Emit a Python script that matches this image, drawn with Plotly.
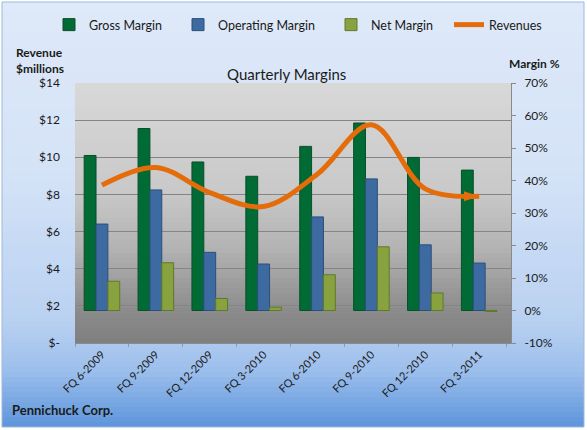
import plotly.graph_objects as go

quarters = ["FQ 6-2009", "FQ 9-2009", "FQ 12-2009", "FQ 3-2010",
            "FQ 6-2010", "FQ 9-2010", "FQ 12-2010", "FQ 3-2011"]
gross_margin = [47.7, 56.0, 45.7, 41.3, 50.5, 57.7, 47.1, 43.2]
operating_margin = [26.6, 37.1, 17.9, 14.3, 28.8, 40.5, 20.2, 14.6]
net_margin = [9.0, 14.7, 3.7, 1.0, 11.0, 19.6, 5.4, -0.3]
revenues = [8.5, 9.45, 8.1, 7.35, 9.1, 11.75, 8.3, 7.9]

rev_ticks = [0, 2, 4, 6, 8, 10, 12, 14]
rev_ticktext = ["$-", "$2", "$4", "$6", "$8", "$10", "$12", "$14"]
pct_ticks = [-10, 0, 10, 20, 30, 40, 50, 60, 70]
pct_ticktext = ["-10%", "0%", "10%", "20%", "30%", "40%", "50%", "60%", "70%"]

W, H = 587, 430
L, R, T, B = 75, 511, 83, 343
FONT = "Lato"


def hx(c):
    c = c.lstrip("#")
    return [int(c[i:i + 2], 16) for i in (0, 2, 4)]


def interp(stops, y):
    for (y0, c0), (y1, c1) in zip(stops[:-1], stops[1:]):
        if y0 <= y <= y1:
            t = (y - y0) / (y1 - y0) if y1 > y0 else 0
            a, b = hx(c0), hx(c1)
            return "rgb(%d,%d,%d)" % tuple(round(a[i] + (b[i] - a[i]) * t) for i in range(3))
    return stops[-1][1] if y > stops[-1][0] else stops[0][1]


def px2x(x):
    return (x - L) / (R - L)


def px2y(y):
    return (B - y) / (B - T)


shapes = []


def gradient(x0, x1, y0, y1, stops, n):
    step = (y1 - y0) / n
    for i in range(n):
        ya = y0 + i * step
        yb = ya + step + 0.6
        col = interp(stops, ya + step / 2)
        shapes.append(dict(type="rect", xref="paper", yref="paper",
                           x0=px2x(x0), x1=px2x(x1), y0=px2y(min(yb, y1)), y1=px2y(ya),
                           fillcolor=col, line=dict(width=0), layer="below"))


outer_stops = [(2, "#dee9f9"), (170, "#d5e3f7"), (320, "#b9d1f1"),
               (370, "#9dbfec"), (427, "#5d95db")]
gradient(2, 584, 2, 427, outer_stops, 85)

plot_stops = [(83, "#d8d8d8"), (190, "#c9c9c9"), (250, "#b2b2b2"),
              (311, "#8b8b8b"), (343, "#7f7f7f")]
gradient(L, R, T, B, plot_stops, 52)

shapes.append(dict(type="rect", xref="paper", yref="paper",
                   x0=px2x(2), x1=px2x(584), y0=px2y(427), y1=px2y(2),
                   line=dict(color="#9db8dc", width=1), layer="below"))

fig = go.Figure()
fig.add_trace(go.Bar(name="Gross Margin", x=quarters, y=gross_margin, yaxis="y", legend="legend",
                     marker=dict(color="#006b35", line=dict(color="#0b4f2a", width=1))))
fig.add_trace(go.Bar(name="Operating Margin", x=quarters, y=operating_margin, yaxis="y", legend="legend2",
                     marker=dict(color="#3d6aa1", line=dict(color="#2b4f7c", width=1))))
fig.add_trace(go.Bar(name="Net Margin", x=quarters, y=net_margin, yaxis="y", legend="legend3",
                     marker=dict(color="#87a23f", line=dict(color="#5f7a2a", width=1))))
fig.add_trace(go.Scatter(name="Revenues", x=quarters, y=revenues, yaxis="y2", legend="legend4",
                         mode="lines", line=dict(color="#e46c0a", width=5, shape="spline", smoothing=1.0)))
fig.add_trace(go.Scatter(x=quarters[-1:], y=revenues[-1:], yaxis="y2", mode="markers",
                         showlegend=False, hoverinfo="skip",
                         marker=dict(symbol="arrow", angle=90, size=16, color="#e46c0a")))


def leg(text_x):
    return dict(orientation="h", xref="container", yref="container",
                x=(text_x - 40) / W, xanchor="left", y=1 - 25 / H, yanchor="middle",
                itemwidth=30, font=dict(size=12.5), bgcolor="rgba(0,0,0,0)")


fig.update_layout(
    width=W, height=H,
    margin=dict(l=L, r=W - R, t=T, b=H - B, autoexpand=False),
    paper_bgcolor="white",
    plot_bgcolor="rgba(0,0,0,0)",
    font=dict(family=FONT, size=12, color="#1a1a1a"),
    barmode="group", bargap=0.34, bargroupgap=0,
    shapes=shapes,
    showlegend=True,
    legend=leg(89), legend2=leg(218), legend3=leg(371), legend4=leg(489),
    xaxis=dict(tickangle=-45, showgrid=False, showline=True, linecolor="#8a8a8a",
               ticks="outside", ticklen=3, tickcolor="#9a9a9a", tickson="boundaries",
               tickfont=dict(size=11)),
    yaxis=dict(side="right", range=[-10, 70], tickvals=pct_ticks, ticktext=pct_ticktext,
               showgrid=False, zeroline=False, showline=True, linecolor="#8a8a8a",
               ticks="outside", ticklen=4, tickcolor="#8a8a8a", tickfont=dict(size=12),
               ticklabelstandoff=6),
    yaxis2=dict(side="left", overlaying="y", range=[0, 14], tickvals=rev_ticks,
                ticktext=rev_ticktext, showgrid=True, gridcolor="#858585", gridwidth=1,
                zeroline=False, showline=False, tickfont=dict(size=12),
                ticklabelstandoff=14),
    annotations=[
        dict(text="Quarterly Margins", xref="paper", yref="paper", x=px2x(286), y=px2y(63),
             showarrow=False, font=dict(size=15)),
        dict(text="<b>Revenue<br>$millions</b>", xref="paper", yref="paper", x=px2x(14),
             y=px2y(60), xanchor="left", yanchor="middle", align="left", showarrow=False,
             font=dict(size=12)),
        dict(text="<b>Margin %</b>", xref="paper", yref="paper", x=px2x(507), y=px2y(63),
             xanchor="left", yanchor="middle", showarrow=False, font=dict(size=12)),
        dict(text="<b>Pennichuck Corp.</b>", xref="paper", yref="paper", x=px2x(10),
             y=px2y(410), xanchor="left", yanchor="middle", showarrow=False,
             font=dict(size=13)),
    ],
)

fig.write_html("out.html")
